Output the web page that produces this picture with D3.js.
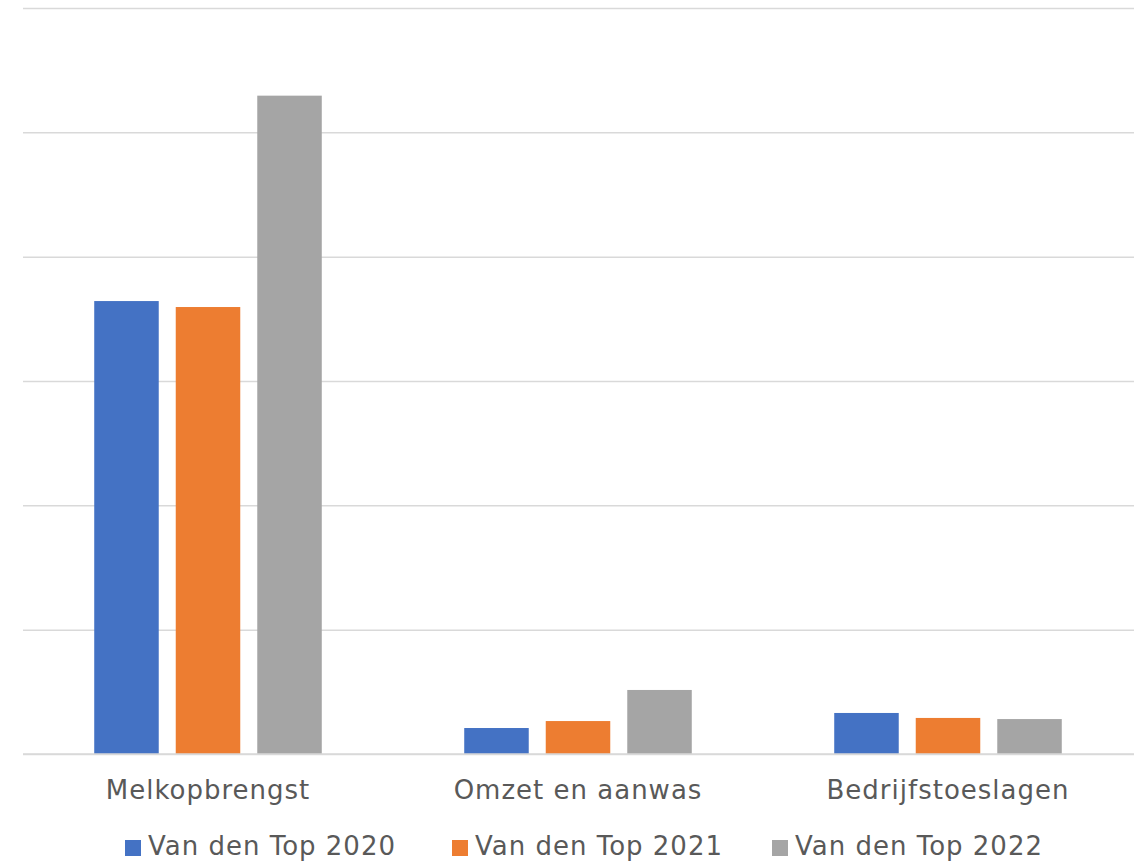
<!DOCTYPE html>
<html>
<head>
<meta charset="utf-8">
<script src="https://cdn.jsdelivr.net/npm/d3@7"></script>
<style>
  html, body { margin: 0; padding: 0; background: #ffffff; }
  svg { display: block; }
  text { font-family: "DejaVu Sans", sans-serif; fill: #595959; }
</style>
</head>
<body>
<svg id="chart" width="1141" height="862"></svg>
<script>
const categories = ["Melkopbrengst", "Omzet en aanwas", "Bedrijfstoeslagen"];
const seriesNames = ["Van den Top 2020", "Van den Top 2021", "Van den Top 2022"];
const values2020 = [3.643, 0.209, 0.330];
const values2021 = [3.595, 0.265, 0.290];
const values2022 = [5.295, 0.515, 0.281];
const seriesColors = ["#4472C4", "#ED7D31", "#A5A5A5"];
const yTicks = [0, 1, 2, 3, 4, 5, 6];

(function () {
const seriesValues = [values2020, values2021, values2022];
const data = categories.map((c, i) => ({
  category: c,
  values: seriesNames.map((s, j) => ({ series: s, value: seriesValues[j][i], color: seriesColors[j] }))
}));

const svg = d3.select("#chart");
const mLeft = 23, mRight = 1133, mTop = 8, mBottom = 754;
const gridEnd = 1134;

const y = d3.scaleLinear().domain([0, 6]).range([mBottom, mTop]);
const x0 = d3.scaleBand().domain(categories).range([mLeft, mRight])
  .paddingInner(0.385).paddingOuter(0.1925);
const x1 = d3.scaleBand().domain(seriesNames).range([0, x0.bandwidth()])
  .paddingInner(0.2086).paddingOuter(0);

// gridlines
const grid = svg.append("g").attr("class", "grid")
  .attr("transform", `translate(${mLeft},0)`)
  .call(d3.axisLeft(y).tickValues(yTicks).tickSize(-(gridEnd - mLeft)).tickFormat(""));
grid.select(".domain").remove();
grid.selectAll(".tick line").attr("stroke", "#d9d9d9").attr("stroke-width", 1.5);

// bars
const groups = svg.append("g").selectAll("g")
  .data(data).join("g")
  .attr("transform", d => `translate(${x0(d.category)},0)`);
groups.selectAll("rect")
  .data(d => d.values).join("rect")
  .attr("x", d => x1(d.series))
  .attr("width", x1.bandwidth())
  .attr("y", d => y(d.value))
  .attr("height", d => y(0) - y(d.value))
  .attr("fill", d => d.color);

// baseline
svg.append("line")
  .attr("x1", mLeft).attr("x2", gridEnd)
  .attr("y1", y(0)).attr("y2", y(0))
  .attr("stroke", "#d9d9d9").attr("stroke-width", 1.5);

// category axis labels
const xAxis = svg.append("g")
  .attr("transform", `translate(0,${mBottom})`)
  .call(d3.axisBottom(x0).tickSize(0).tickPadding(0));
xAxis.select(".domain").remove();
xAxis.selectAll(".tick text")
  .attr("y", 45).attr("dy", 0)
  .style("font-size", "26px")
  .style("letter-spacing", "1px")
  .style("font-family", "'DejaVu Sans', sans-serif")
  .attr("fill", "#595959");

// legend
const legendX = [125, 452, 772];
const legend = svg.append("g").selectAll("g")
  .data(seriesNames).join("g")
  .attr("transform", (d, i) => `translate(${legendX[i]},0)`);
legend.append("rect")
  .attr("x", 0).attr("y", 840).attr("width", 16).attr("height", 16)
  .attr("fill", (d, i) => seriesColors[i]);
legend.append("text")
  .attr("x", 23).attr("y", 855)
  .style("font-size", "26px")
  .style("letter-spacing", "1px")
  .text(d => d);
})();
</script>
</body>
</html>
